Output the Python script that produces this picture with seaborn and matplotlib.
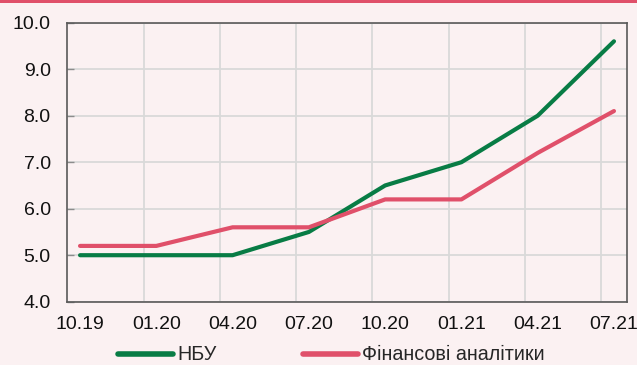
import matplotlib
matplotlib.use("Agg")
import matplotlib.pyplot as plt
from matplotlib.patches import Rectangle
from matplotlib.ticker import FixedLocator, FormatStrFormatter
import numpy as np
import pandas as pd
import seaborn as sns

# Quarterly inflation forecasts, %
periods = ["10.19", "01.20", "04.20", "07.20", "10.20", "01.21", "04.21", "07.21"]
nbu = [5.0, 5.0, 5.0, 5.5, 6.5, 7.0, 8.0, 9.6]
analysts = [5.2, 5.2, 5.6, 5.6, 6.2, 6.2, 7.2, 8.1]
series_names = ["НБУ", "Фінансові аналітики"]

BG = "#FBF1F2"
GREEN = "#087C45"
RED = "#E0506A"
TICK_FS = 14
LEG_FS = 14.2

sns.set_theme(style="white")
plt.rcParams["font.family"] = ["Liberation Sans", "DejaVu Sans"]

idx = np.arange(len(periods))
df = pd.concat([
    pd.DataFrame({"pos": idx, "value": nbu, "series": series_names[0]}),
    pd.DataFrame({"pos": idx, "value": analysts, "series": series_names[1]}),
])

fig = plt.figure(figsize=(6.37, 3.65), dpi=100, facecolor=BG)
ax = fig.add_axes([0.1057, 0.1734, 0.8781, 0.7644])
ax.set_facecolor(BG)

sns.lineplot(data=df, x="pos", y="value", hue="series",
             palette={series_names[0]: GREEN, series_names[1]: RED},
             linewidth=3.0, ax=ax, legend=True, estimator=None, sort=False)
for ln in ax.lines:
    ln.set_solid_capstyle("round")
    ln.set_solid_joinstyle("round")

ax.set_xlim(-1 / 6, len(periods) - 1 + 1 / 6)
ax.set_ylim(4.0, 10.0)
ax.set_xlabel("")
ax.set_ylabel("")

# category labels on quarters, gridlines between them
ax.set_xticks(idx)
ax.set_xticklabels(periods)
ax.xaxis.set_minor_locator(FixedLocator(idx[:-1] + 5 / 6))
ax.tick_params(axis="x", which="major", length=0, pad=10, labelsize=TICK_FS, colors="#111111")
ax.tick_params(axis="x", which="minor", direction="in", length=5, width=1, color="#8c8c8c")
ax.grid(False)
ax.grid(True, axis="x", which="minor", color="#D9D9D9", linewidth=1.3)

ax.set_yticks(np.arange(4, 10.01, 1.0))
ax.yaxis.set_major_formatter(FormatStrFormatter("%.1f"))
ax.tick_params(axis="y", which="major", direction="in", length=5, width=1,
               color="#8c8c8c", pad=12, labelsize=TICK_FS, labelcolor="#111111", left=True)
ax.grid(True, axis="y", which="major", color="#D9D9D9", linewidth=1.3)
ax.set_axisbelow(True)

for sp in ax.spines.values():
    sp.set_visible(True)
    sp.set_color("#595959")
    sp.set_linewidth(1.2)

handles, labels = ax.get_legend_handles_labels()
ax.get_legend().remove()
leg = fig.legend(handles, labels, loc="center left", bbox_to_anchor=(118 / 637, 10 / 365),
                 ncol=2, frameon=False, fontsize=LEG_FS, handlelength=2.8, handletextpad=0.2,
                 columnspacing=4.4, borderpad=0, borderaxespad=0)
for h in leg.get_lines():
    h.set_linewidth(4)
    h.set_solid_capstyle("round")

# accent strip along the top edge
fig.add_artist(Rectangle((0, 1 - 3 / 365), 1, 3 / 365, transform=fig.transFigure,
                         color=RED, linewidth=0))

fig.savefig("out.png", dpi=100, facecolor=BG)
